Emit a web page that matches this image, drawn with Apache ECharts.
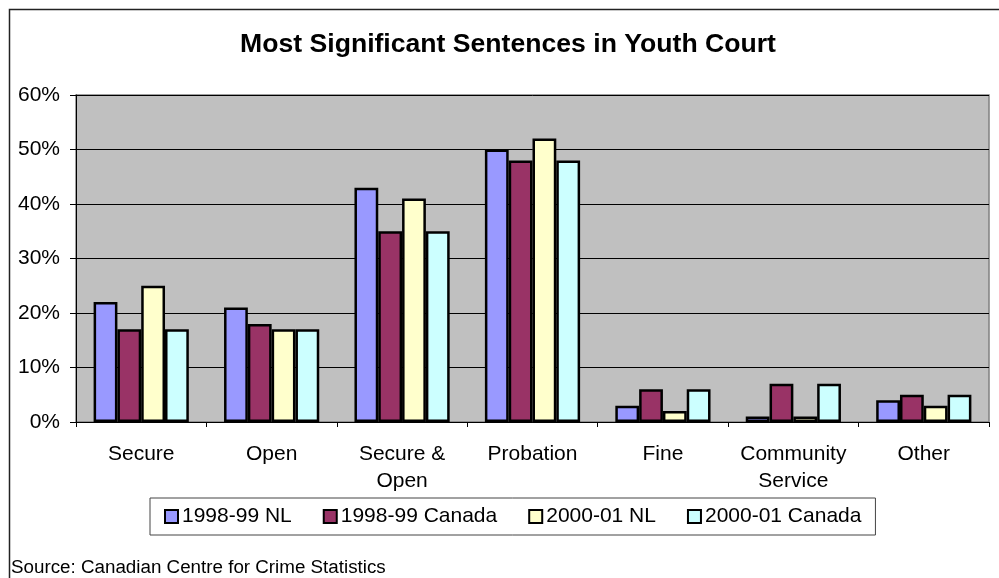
<!DOCTYPE html>
<html><head><meta charset="utf-8">
<script src="https://cdn.jsdelivr.net/npm/echarts@6/dist/echarts.min.js"></script>
<style>html,body{margin:0;padding:0;background:#fff}#c{width:999px;height:578px}</style>
</head><body><div id="c"></div>
<script>
const categories = ['Secure', 'Open', 'Secure &\nOpen', 'Probation', 'Fine', 'Community\nService', 'Other'];
const nl9899 = [22, 21, 43, 50, 3, 1, 4];
const canada9899 = [17, 18, 35, 48, 6, 7, 5];
const nl0001 = [25, 17, 41, 52, 2, 1, 3];
const canada0001 = [17, 17, 35, 48, 6, 7, 5];
const seriesNames = ['1998-99 NL', '1998-99 Canada', '2000-01 NL', '2000-01 Canada'];
const yTicks = [0, 10, 20, 30, 40, 50, 60];

const colors = ['#9999FF', '#993366', '#FFFFCC', '#CCFFFF'];
const font = 'Arial, "Liberation Sans", sans-serif';
const chart = echarts.init(document.getElementById('c'));
const dataSets = [nl9899, canada9899, nl0001, canada0001];
chart.setOption({
  animation: false,
  textStyle: { fontFamily: font },
  graphic: [
    { type: 'rect', shape: { x: 9.5, y: 9.5, width: 1000, height: 600 }, style: { fill: 'none', stroke: '#222', lineWidth: 1.5 }, silent: true },
    { type: 'text', x: 508, y: 45, style: { text: 'Most Significant Sentences in Youth Court', font: 'bold 26.6px ' + font, fill: '#000', align: 'center', verticalAlign: 'middle' } },
    { type: 'text', x: 11, y: 567.5, style: { text: 'Source: Canadian Centre for Crime Statistics', font: '18.8px ' + font, fill: '#000', verticalAlign: 'middle' } }
  ],
  legend: {
    data: seriesNames,
    left: 150, top: 498,
    icon: 'rect', itemWidth: 13, itemHeight: 13, itemGap: 31,
    borderColor: '#444', borderWidth: 1, padding: [8, 14, 8, 14],
    textStyle: { fontFamily: font, fontSize: 21, color: '#000', padding: [0, 0, 0, -1] },
    itemStyle: { borderColor: '#000', borderWidth: 2 }
  },
  grid: { left: 76, right: 10, top: 95, bottom: 156, show: true, backgroundColor: '#C0C0C0', borderColor: '#808080', borderWidth: 1.5 },
  xAxis: {
    type: 'category', data: categories,
    axisLine: { lineStyle: { color: '#000', width: 1 } },
    axisTick: { show: true, length: 5, lineStyle: { color: '#000' } },
    axisLabel: { fontFamily: font, fontSize: 21, color: '#000', margin: 19, lineHeight: 27, interval: 0 }
  },
  yAxis: {
    type: 'value', min: 0, max: 60, interval: 10,
    axisLine: { show: true, lineStyle: { color: '#000', width: 1 } },
    axisTick: { show: true, length: 6, lineStyle: { color: '#000' } },
    axisLabel: { fontFamily: font, fontSize: 21, color: '#000', margin: 16, formatter: v => yTicks.includes(v) ? v + '%' : '' },
    splitLine: { show: true, lineStyle: { color: '#000', width: 1 } }
  },
  series: dataSets.map((d, i) => ({
    name: seriesNames[i], type: 'bar', data: d,
    barGap: '0%', barCategoryGap: '27%',
    itemStyle: { color: colors[i], borderColor: '#000', borderWidth: 2.5 }
  }))
});
</script></body></html>
